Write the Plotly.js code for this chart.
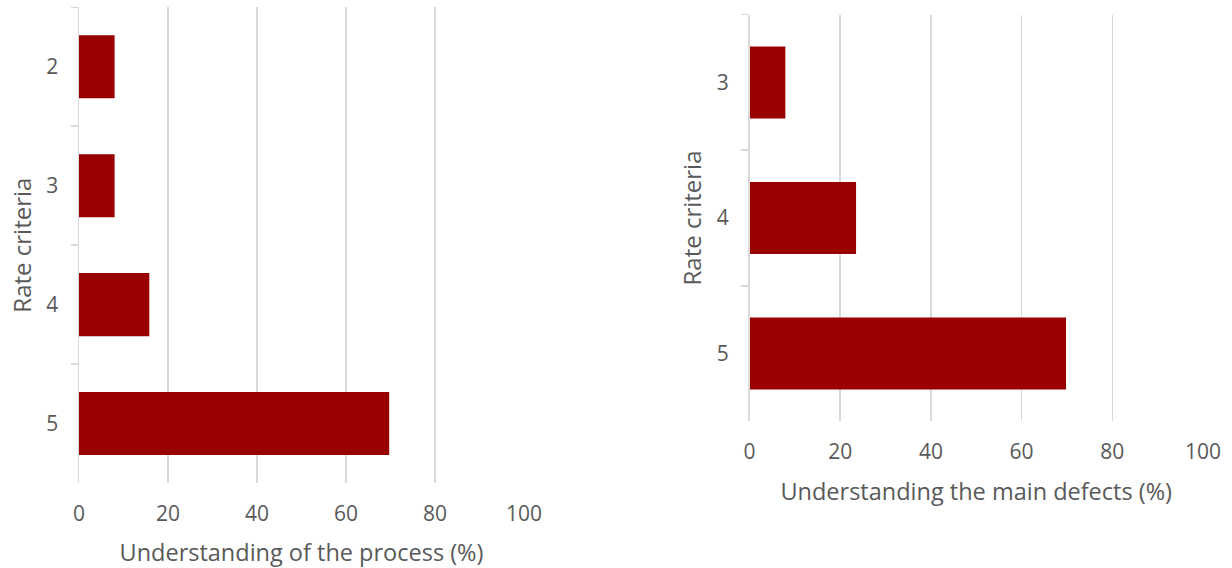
<!DOCTYPE html>
<html>
<head>
<meta charset="utf-8">
<script src="https://cdn.plot.ly/plotly-3.0.1.min.js"></script>
<style>
  html, body { margin: 0; padding: 0; background: #ffffff; }
  #chart { width: 1232px; height: 568px; }
</style>
</head>
<body>
<div id="chart"></div>
<script>
// Left chart: Understanding of the process (%)
const processCategories = ['2', '3', '4', '5'];
const processValues = [8, 8, 15.8, 69.7];

// Right chart: Understanding the main defects (%)
const defectsCategories = ['3', '4', '5'];
const defectsValues = [7.9, 23.5, 69.8];

const xTickValues = [0, 20, 40, 60, 80, 100];
const xTickLabels = ['0', '20', '40', '60', '80', '100'];

const leftXTitle = 'Understanding of the process (%)';
const rightXTitle = 'Understanding the main defects (%)';
const yTitle = 'Rate criteria';

const barColor = '#990000';
const textColor = '#595959';
const gridColor = '#d9d9d9';
const fontFamily = '"Open Sans", "Noto Sans", sans-serif';

const W = 1232, H = 568;

const traces = [
  {
    type: 'bar', orientation: 'h',
    x: processValues, y: processCategories,
    xaxis: 'x', yaxis: 'y',
    marker: { color: barColor, line: { width: 0 } },
    hoverinfo: 'x+y', showlegend: false
  },
  {
    type: 'bar', orientation: 'h',
    x: defectsValues, y: defectsCategories,
    xaxis: 'x2', yaxis: 'y2',
    marker: { color: barColor, line: { width: 0 } },
    hoverinfo: 'x+y', showlegend: false
  }
];

function xAxis(domain, anchor, title) {
  return {
    domain: domain, anchor: anchor,
    range: [0, 100], fixedrange: true,
    tickmode: 'array', tickvals: xTickValues, ticktext: xTickLabels,
    ticks: '', ticklabelstandoff: 16,
    showgrid: true, gridcolor: gridColor, gridwidth: 1.5,
    zeroline: false, showline: false,
    tickfont: { family: fontFamily, size: 21, color: textColor },
    title: { text: title, standoff: 19, font: { family: fontFamily, size: 23.5, color: textColor } },
    automargin: false
  };
}

function yAxis(domain, anchor) {
  return {
    domain: domain, anchor: anchor,
    type: 'category', autorange: 'reversed', fixedrange: true,
    ticks: 'outside', tickson: 'boundaries', ticklen: 7, tickcolor: gridColor, tickwidth: 1.5,
    ticklabelstandoff: 15,
    showline: true, linecolor: gridColor, linewidth: 1.5,
    showgrid: false, zeroline: false,
    tickfont: { family: fontFamily, size: 21, color: textColor },
    title: { text: yTitle, standoff: 8, font: { family: fontFamily, size: 24, color: textColor } },
    automargin: false
  };
}

const layout = {
  width: W, height: H,
  margin: { l: 0, r: 0, t: 0, b: 0 },
  paper_bgcolor: '#ffffff', plot_bgcolor: '#ffffff',
  bargap: 0.47,
  showlegend: false,
  xaxis: xAxis([79 / W, 524 / W], 'y', leftXTitle),
  yaxis: yAxis([85 / H, 560.7 / H], 'x'),
  xaxis2: xAxis([749.5 / W, 1203 / W], 'y2', rightXTitle),
  yaxis2: yAxis([146.7 / H, 553.3 / H], 'x2'),
  font: { family: fontFamily, color: textColor }
};

Plotly.newPlot('chart', traces, layout, { displayModeBar: false, staticPlot: true });
</script>
</body>
</html>
